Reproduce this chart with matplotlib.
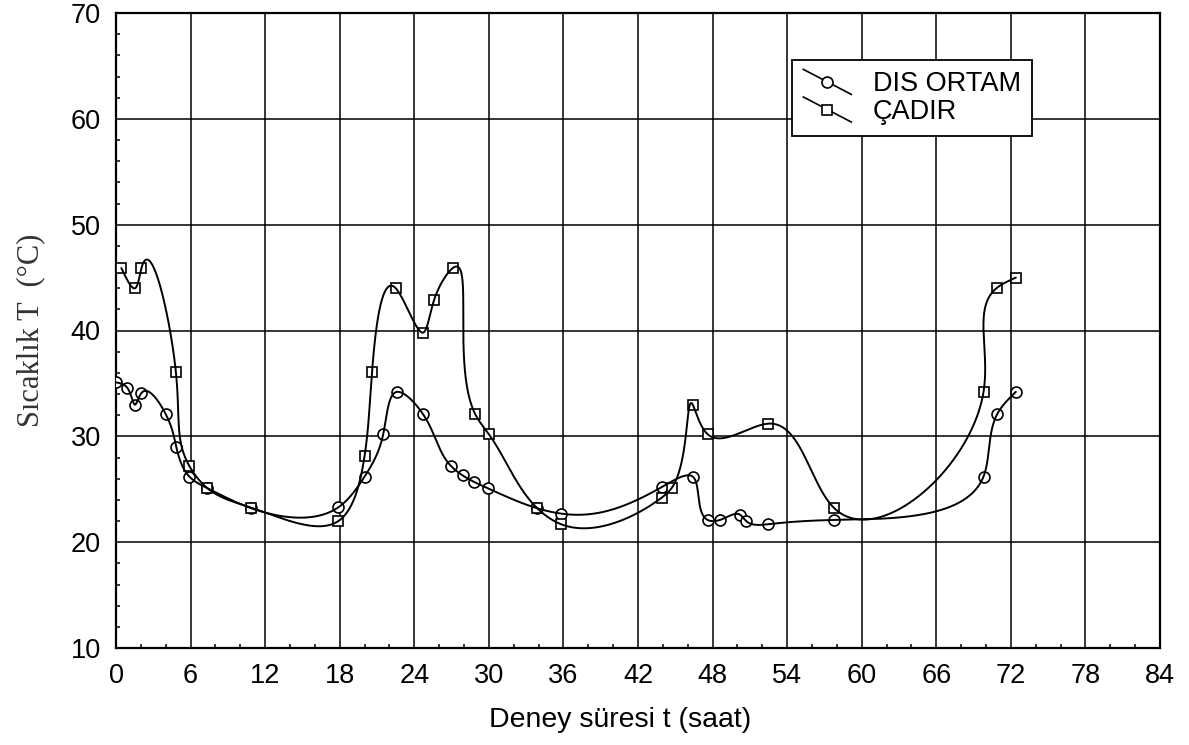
import numpy as np
import matplotlib
matplotlib.use("Agg")
import matplotlib.pyplot as plt
from matplotlib.lines import Line2D
from matplotlib.legend_handler import HandlerLine2D
from matplotlib.ticker import MultipleLocator

# Outdoor air temperature (circles)
dis_t = [0.0, 0.9, 1.55, 2.05, 4.0, 4.85, 5.9, 7.35, 10.9, 17.9, 20.0, 21.5,
         22.6, 24.7, 26.95, 27.9, 28.8, 29.9, 33.9, 35.8, 43.9, 46.4, 47.6,
         48.6, 50.2, 50.7, 52.5, 57.8, 69.8, 70.9, 72.4]
dis_T = [35.1, 34.6, 33.0, 34.1, 32.1, 29.0, 26.2, 25.1, 23.2, 23.3, 26.2, 30.2,
         34.2, 32.1, 27.2, 26.3, 25.7, 25.1, 23.2, 22.7, 25.2, 26.2, 22.1,
         22.1, 22.6, 22.0, 21.7, 22.1, 26.2, 32.1, 34.2]

# Tent interior temperature (squares)
cadir_t = [0.43, 1.55, 2.05, 4.82, 5.9, 7.35, 10.9, 17.9, 20.0, 20.6, 22.5,
           24.7, 25.6, 27.1, 28.9, 30.0, 33.9, 35.8, 43.9, 44.7, 46.4, 47.6,
           52.5, 57.8, 69.8, 70.9, 72.4]
cadir_T = [45.9, 44.0, 45.9, 36.05, 27.2, 25.1, 23.25, 22.0, 28.15, 36.1, 44.0,
           39.8, 42.9, 45.9, 32.1, 30.2, 23.2, 21.7, 24.2, 25.1, 33.0, 30.2,
           31.2, 23.2, 34.2, 44.05, 45.0]

x_ticks = list(range(0, 85, 6))
y_ticks = list(range(10, 71, 10))
series_labels = ["DIS ORTAM", "ÇADIR"]


def natural_cubic(t, v, tt):
    """Natural cubic spline of v(t) evaluated at tt."""
    t = np.asarray(t, float)
    v = np.asarray(v, float)
    n = len(t)
    h = np.diff(t)
    A = np.zeros((n, n))
    rhs = np.zeros(n)
    A[0, 0] = A[-1, -1] = 1.0
    for i in range(1, n - 1):
        A[i, i - 1] = h[i - 1]
        A[i, i] = 2.0 * (h[i - 1] + h[i])
        A[i, i + 1] = h[i]
        rhs[i] = 6.0 * ((v[i + 1] - v[i]) / h[i] - (v[i] - v[i - 1]) / h[i - 1])
    M = np.linalg.solve(A, rhs)
    k = np.clip(np.searchsorted(t, tt) - 1, 0, n - 2)
    a = t[k + 1] - tt
    b = tt - t[k]
    hk = h[k]
    return (M[k] * a ** 3 / (6 * hk) + M[k + 1] * b ** 3 / (6 * hk)
            + (v[k] / hk - M[k] * hk / 6) * a + (v[k + 1] / hk - M[k + 1] * hk / 6) * b)


def smooth_path(x, y, sx=12.44, sy=10.6, n=3000):
    """Parametric spline through the points, chord-length parameterised."""
    x = np.asarray(x, float)
    y = np.asarray(y, float)
    d = np.hypot(np.diff(x) * sx, np.diff(y) * sy)
    s = np.concatenate([[0.0], np.cumsum(d)])
    ss = np.linspace(0, s[-1], n)
    return natural_cubic(s, x, ss), natural_cubic(s, y, ss)


class SlantedHandler(HandlerLine2D):
    """Legend key: a falling diagonal stroke with the marker at its middle."""

    def create_artists(self, legend, orig_handle, xdescent, ydescent,
                       width, height, fontsize, trans):
        x0, x1 = -xdescent, -xdescent + width
        yc = -ydescent + height / 2
        dy = 0.66 * height
        stroke = Line2D([x0, x1], [yc + dy, yc - dy])
        self.update_prop(stroke, orig_handle, legend)
        stroke.set_marker("None")
        stroke.set_transform(trans)
        mark = Line2D([(x0 + x1) / 2], [yc])
        self.update_prop(mark, orig_handle, legend)
        mark.set_linestyle("None")
        mark.set_transform(trans)
        return [stroke, mark]


plt.rcParams["font.family"] = ["Liberation Sans", "DejaVu Sans"]

fig = plt.figure(figsize=(11.89, 7.45), dpi=100)
ax = fig.add_axes([116 / 1189, 1 - 648 / 745, 1044 / 1189, 635 / 745])

line_kw = dict(color="black", lw=1.4, solid_capstyle="round")
mk_kw = dict(ls="none", color="black", mfc="white", mew=1.2, ms=7.9)

ax.plot(dis_t, dis_T, marker="o", zorder=3, **mk_kw)
ax.plot(cadir_t, cadir_T, marker="s", zorder=4, **mk_kw)

px, py = smooth_path(dis_t, dis_T)
ax.plot(px, py, zorder=5, **line_kw)
px, py = smooth_path(cadir_t, cadir_T)
ax.plot(px, py, zorder=5, **line_kw)

ax.set_xlim(0, 84)
ax.set_ylim(10, 70)
ax.set_xticks(x_ticks)
ax.set_yticks(y_ticks)
ax.xaxis.set_minor_locator(MultipleLocator(2))
ax.yaxis.set_minor_locator(MultipleLocator(2))
ax.tick_params(which="both", direction="in", top=False, right=False,
               labelsize=19.5, width=1.1, colors="black")
ax.tick_params(which="major", length=0, pad=11)
ax.tick_params(which="minor", length=3)
ax.grid(which="major", color="black", lw=1.1)
ax.set_axisbelow(True)
for sp in ax.spines.values():
    sp.set_linewidth(1.6)

ax.set_xlabel("Deney süresi t (saat)", fontsize=20.5)
ax.xaxis.set_label_coords((620 - 116) / 1044, -0.093)
ax.xaxis.label.set_va("top")

ax.set_ylabel("Sıcaklık T  (°C)", fontsize=22,
              family=["Liberation Serif", "DejaVu Serif"], color="#333333")
ax.yaxis.label.set_va("center")
ax.yaxis.set_label_coords((31 - 116) / 1044, 0.5)

handles = [Line2D([], [], marker="o", **{**mk_kw, "ls": "-"}, lw=1.2),
           Line2D([], [], marker="s", **{**mk_kw, "ls": "-"}, lw=1.2)]
leg = ax.legend(handles, series_labels, loc="upper left",
                bbox_to_anchor=((792 - 116) / 1044, (648 - 60) / 635),
                borderaxespad=0, fontsize=19.5, frameon=True, fancybox=False,
                framealpha=1, edgecolor="black", handlelength=1.77,
                handletextpad=0.8, labelspacing=0.06, borderpad=0.42,
                handler_map={Line2D: SlantedHandler()})
leg.get_frame().set_linewidth(1.3)
leg.set_zorder(10)

fig.savefig("out.png", dpi=100, facecolor="white")
